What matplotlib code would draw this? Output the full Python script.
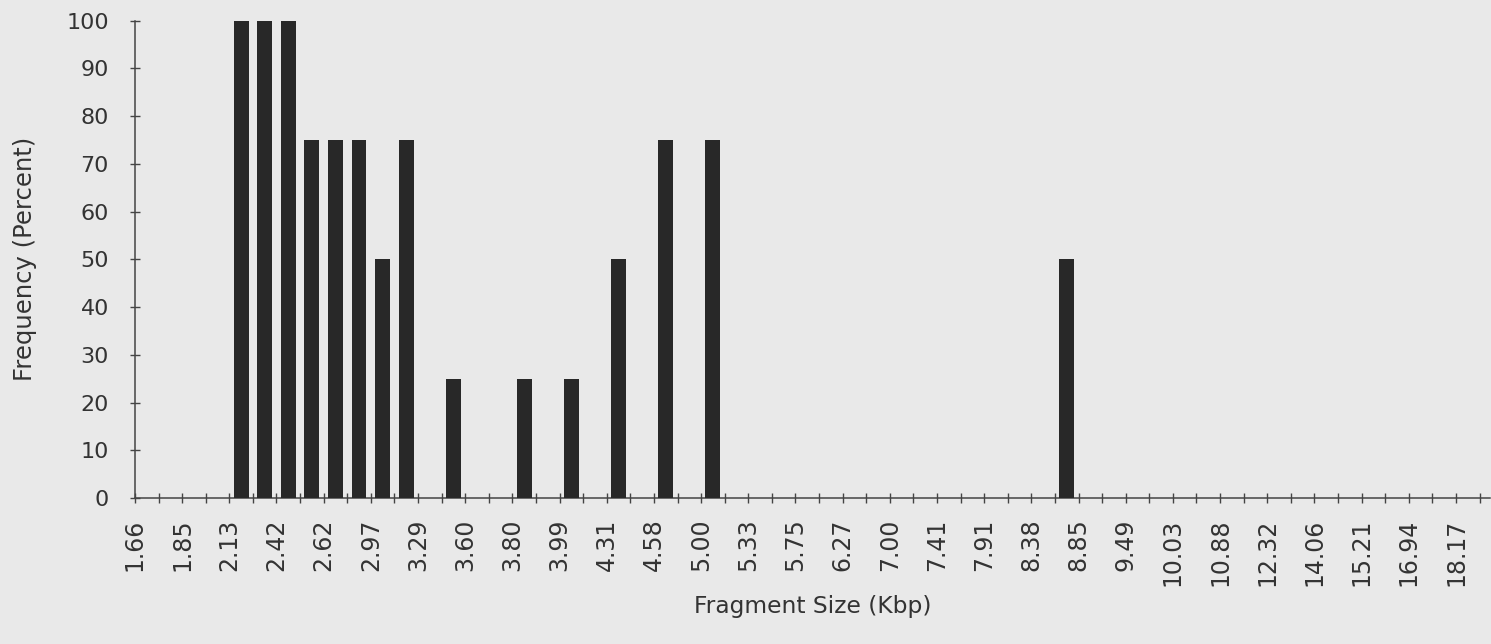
import matplotlib
matplotlib.use('Agg')
import matplotlib.pyplot as plt

# fragment size labels sit on every other bin edge
size_labels = ['1.66', '1.85', '2.13', '2.42', '2.62', '2.97', '3.29', '3.60',
               '3.80', '3.99', '4.31', '4.58', '5.00', '5.33', '5.75', '6.27',
               '7.00', '7.41', '7.91', '8.38', '8.85', '9.49', '10.03', '10.88',
               '12.32', '14.06', '15.21', '16.94', '18.17']

# frequency (percent) per bin
freq = [0, 0, 0, 0, 100, 100, 100, 75, 75, 75, 50, 75, 0, 25, 0, 0, 25, 0, 25, 0,
        50, 0, 75, 0, 75, 0, 0, 0, 0, 0, 0, 0, 0, 0, 0, 0, 0, 0, 0, 50,
        0, 0, 0, 0, 0, 0, 0, 0, 0, 0, 0, 0, 0, 0, 0, 0, 0]

bg = '#e9e9e9'
ink = '#333333'
plt.rcParams['font.family'] = ['DejaVu Sans']

fig = plt.figure(figsize=(14.91, 6.44), dpi=100, facecolor=bg)
ax = fig.add_axes([0.0905, 0.2267, 0.9088, 0.7412], facecolor=bg)

x = [i + 0.5 for i in range(len(freq))]
ax.bar(x, freq, width=0.63, color='#282828', zorder=3)

ax.set_xlim(0, 57.44)
ax.set_ylim(0, 100)
ax.set_yticks(range(0, 101, 10))
ax.set_xticks(range(0, 58))
ax.set_xticklabels([size_labels[i // 2] if i % 2 == 0 and i // 2 < len(size_labels) else ''
                    for i in range(0, 58)], rotation=90)

for s in ['top', 'right']:
    ax.spines[s].set_visible(False)
for s in ['left', 'bottom']:
    ax.spines[s].set_color('#444444')
    ax.spines[s].set_linewidth(1.1)

ax.tick_params(axis='x', direction='inout', length=7.5, width=1, color='#444444',
               pad=11, labelsize=17, labelcolor=ink)
ax.tick_params(axis='y', direction='inout', length=7.5, width=1, color='#444444',
               pad=15, labelsize=16, labelcolor=ink)

ax.set_xlabel('Fragment Size (Kbp)', fontsize=16.8, color=ink)
ax.set_ylabel('Frequency (Percent)', fontsize=17.5, color=ink)
ax.xaxis.set_label_coords(0.5, -0.203)
ax.yaxis.set_label_coords(-0.0723, 0.5)

fig.savefig('out.png', dpi=100, facecolor=bg)
